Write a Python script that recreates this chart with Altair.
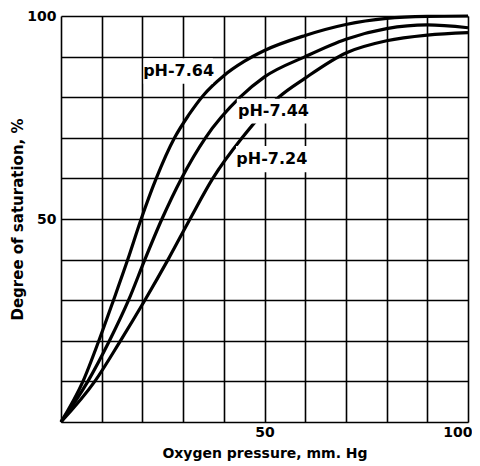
import altair as alt
import pandas as pd

# Oxygen dissociation curves
x_764 = [0, 5.4, 9.3, 12.9, 16.4, 19.7, 23.4, 27.9, 31.3, 35.0, 40, 45, 50, 60, 70, 80, 90, 100]
y_764 = [0, 10, 20, 30, 40, 50, 60, 70, 75.5, 80.5, 85.3, 88.8, 91.5, 95.2, 97.9, 99.4, 99.9, 100]

x_744 = [0, 6.6, 11.9, 16.6, 20.6, 24.8, 29.6, 35.5, 44.0, 50, 60, 70, 80, 90, 100]
y_744 = [0, 10, 20, 30, 40, 50, 60, 70, 80, 85, 90, 94.3, 96.9, 97.8, 97.1]

x_724 = [0, 8.3, 14.6, 20.6, 26.3, 31.7, 37.3, 44.5, 53.5, 60, 70, 80, 90, 100]
y_724 = [0, 10, 20, 30, 40, 50, 60, 70, 80, 84.7, 90.9, 93.9, 95.3, 95.9]

series_names = ["pH-7.64", "pH-7.44", "pH-7.24"]

label_text = ["pH-7.64", "pH-7.44", "pH-7.24"]
label_x = [28.9, 52.2, 51.8]
label_y = [86.4, 76.5, 64.8]
box_x1 = [20.3, 43.2, 43.0]
box_x2 = [37.3, 61.0, 60.6]
box_y1 = [83.3, 73.5, 61.5]
box_y2 = [89.6, 79.6, 68.0]

grid_vals = list(range(0, 101, 10))

rows = []
for name, xs, ys in zip(series_names, [x_764, x_744, x_724], [y_764, y_744, y_724]):
    for a, b in zip(xs, ys):
        rows.append({"series": name, "x": a, "y": b})
curves = pd.DataFrame(rows)

labels = pd.DataFrame({
    "text": label_text, "x": label_x, "y": label_y,
    "bx1": box_x1, "bx2": box_x2, "by1": box_y1, "by2": box_y2,
})

FONT = "DejaVu Sans"
sx = alt.Scale(domain=[0, 100], nice=False, zero=False)
sy = alt.Scale(domain=[0, 100], nice=False, zero=False)

x_axis = alt.Axis(
    values=grid_vals,
    labelExpr="datum.value == 50 || datum.value == 100 ? datum.label : ''",
    grid=True, gridColor="black", gridWidth=1.6, gridOpacity=1,
    domain=False, ticks=False, labelFlush=True, labelFlushOffset=4,
    labelFont=FONT, labelFontWeight="bold", labelFontSize=14, labelColor="black",
    labelPadding=3,
    title="Oxygen pressure, mm. Hg", titleFont=FONT, titleFontWeight="bold",
    titleFontSize=14, titleColor="black", titlePadding=7,
)
y_axis = alt.Axis(
    values=grid_vals,
    labelExpr="datum.value == 50 || datum.value == 100 ? datum.label : ''",
    grid=True, gridColor="black", gridWidth=1.6, gridOpacity=1,
    domain=False, ticks=False, labelFlush=False,
    labelFont=FONT, labelFontWeight="bold", labelFontSize=14, labelColor="black",
    labelPadding=5,
    title="Degree of saturation, %", titleFont=FONT, titleFontWeight="bold",
    titleFontSize=15, titleColor="black", titlePadding=1,
)

lines = alt.Chart(curves).mark_line(
    color="black", strokeWidth=3.2, interpolate="monotone"
).encode(
    x=alt.X("x:Q", scale=sx, axis=x_axis),
    y=alt.Y("y:Q", scale=sy, axis=y_axis),
    detail="series:N",
    order="x:Q",
)

boxes = alt.Chart(labels).mark_rect(color="white").encode(
    x=alt.X("bx1:Q", scale=sx),
    x2="bx2:Q",
    y=alt.Y("by1:Q", scale=sy),
    y2="by2:Q",
)

texts = alt.Chart(labels).mark_text(
    font=FONT, fontSize=16, fontWeight="bold", color="black",
    align="center", baseline="middle"
).encode(
    x=alt.X("x:Q", scale=sx),
    y=alt.Y("y:Q", scale=sy),
    text="text:N",
)

chart = alt.layer(lines, boxes, texts).properties(
    width=407, height=406,
    autosize=alt.AutoSizeParams(type="none"),
    padding={"left": 53, "top": 8, "right": 4, "bottom": 40},
).configure_view(stroke="black", strokeWidth=2.5).configure(background="white")

chart.save("out.html", embed_options={"renderer": "svg", "actions": False})
